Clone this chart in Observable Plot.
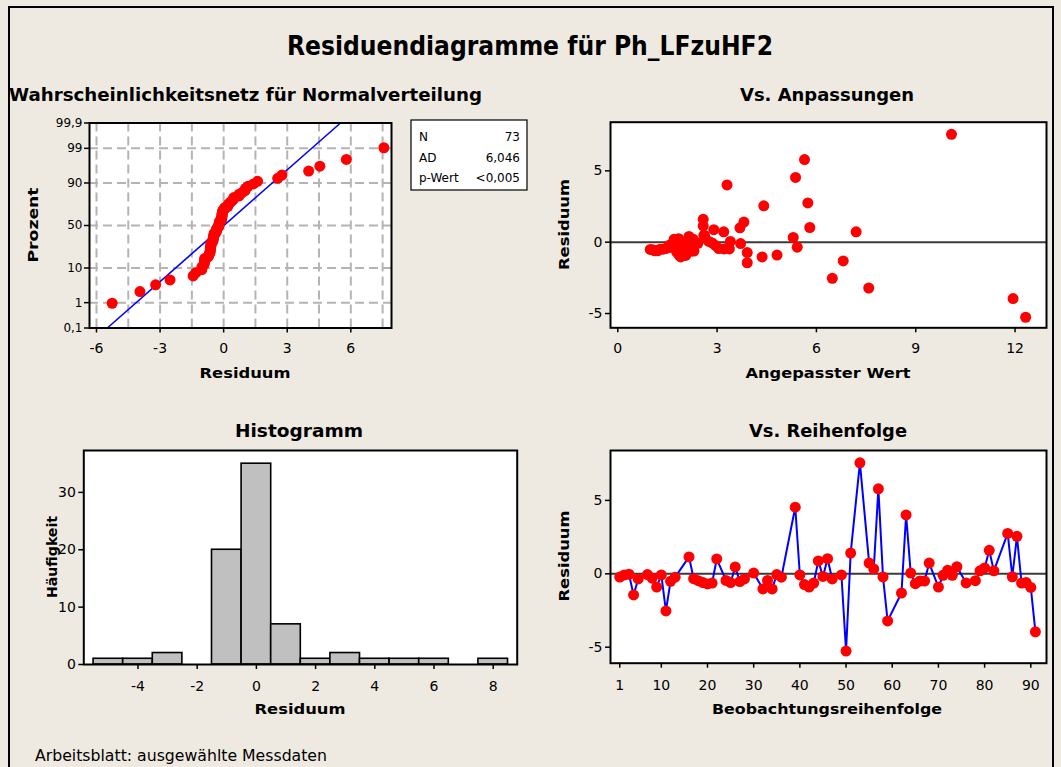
<!DOCTYPE html>
<html><head><meta charset="utf-8">
<script src="https://cdn.jsdelivr.net/npm/d3@7"></script>
<script src="https://cdn.jsdelivr.net/npm/@observablehq/plot@0.6"></script>
<style>
html,body{margin:0;padding:0;background:#eeeae1;}
#root{position:relative;width:1061px;height:767px;overflow:hidden;background:#eeeae1;}
</style></head><body><div id="root"></div>
<script>
// ---------- data ----------
const mainTitle = "Residuendiagramme für Ph_LFzuHF2";
const panelTitles = ["Wahrscheinlichkeitsnetz für Normalverteilung", "Vs. Anpassungen", "Histogramm", "Vs. Reihenfolge"];
const axisLabels = {prob: ["Residuum", "Prozent"], fits: ["Angepasster Wert", "Residuum"], hist: ["Residuum", "Häufigkeit"], order: ["Beobachtungsreihenfolge", "Residuum"]};
const footer = "Arbeitsblatt: ausgewählte Messdaten";
const statLabels = ["N", "AD", "p-Wert"];
const statValues = ["73", "6,046", "<0,005"];

const obsNumber = [1,2,3,4,5,7,8,9,10,11,12,13,16,17,18,19,20,21,22,24,25,26,27,28,30,32,33,34,35,36,39,40,41,42,43,44,45,46,47,49,50,51,53,55,56,57,58,59,62,63,64,65,66,67,68,70,71,72,73,74,76,78,79,80,81,82,85,86,87,88,89,90,91];
const residuals = [-0.22,-0.08,-0.03,-1.44,-0.35,-0.05,-0.30,-0.90,-0.08,-2.53,-0.51,-0.23,1.15,-0.33,-0.47,-0.60,-0.69,-0.63,1.01,-0.45,-0.60,0.47,-0.53,-0.35,0.05,-1.03,-0.45,-1.03,-0.05,-0.23,4.54,-0.08,-0.73,-0.90,-0.63,0.88,-0.18,1.03,-0.35,-0.08,-5.26,1.41,7.56,0.73,0.33,5.79,-0.21,-3.21,-1.31,4.01,0.05,-0.67,-0.49,-0.49,0.73,-0.90,-0.10,0.25,-0.10,0.48,-0.62,-0.47,0.20,0.40,1.60,0.20,2.75,-0.20,2.55,-0.63,-0.60,-0.93,-3.95];
const fittedValues = [1.55,2.42,1.75,3.91,1.58,1.90,1.68,1.85,2.05,6.48,0.98,1.72,2.58,1.62,3.21,1.12,1.78,2.12,3.69,1.45,1.20,2.62,1.05,1.52,2.75,4.36,3.05,1.90,2.85,2.95,5.37,2.15,3.91,4.81,2.20,2.90,2.10,5.80,5.42,2.35,12.32,3.81,10.08,7.20,5.30,5.64,1.80,7.58,6.81,3.30,3.40,1.98,1.28,1.36,3.20,1.95,3.71,1.84,2.22,2.60,2.30,3.37,1.70,2.15,2.58,2.28,5.74,2.00,4.41,1.88,2.25,2.05,11.94];

const probTickPercent = [0.1, 1, 10, 50, 90, 99, 99.9];
const probTickLabels = ["0,1", "1", "10", "50", "90", "99", "99,9"];
const probGridPercent = [1, 10, 50, 90, 99];
const probXTicks = [-6, -3, 0, 3, 6];
const probXGrid = [-6, -4.5, -3, -1.5, 0, 1.5, 3, 4.5, 6, 7.5];
const fitsXTicks = [0, 3, 6, 9, 12];
const residTicks = [-5, 0, 5];
const histXTicks = [-4, -2, 0, 2, 4, 6, 8];
const histYTicks = [0, 10, 20, 30];
const histBinEdges = [-5.5,-4.5,-3.5,-2.5,-1.5,-0.5,0.5,1.5,2.5,3.5,4.5,5.5,6.5,7.5,8.5];
const orderXTicks = [1, 10, 20, 30, 40, 50, 60, 70, 80, 90];

// ---------- helpers ----------
function probit(p) {
  const a=[-39.69683028665376,220.9460984245205,-275.9285104469687,138.3577518672690,-30.66479806614716,2.506628277459239];
  const b=[-54.47609879822406,161.5858368580409,-155.6989798598866,66.80131188771972,-13.28068155288572];
  const c=[-0.007784894002430293,-0.3223964580411365,-2.400758277161838,-2.549732539343734,4.374664141464968,2.938163982698783];
  const d=[0.007784695709041462,0.3224671290700398,2.445134137142996,3.754408661907416];
  const pl=0.02425, ph=1-pl;
  if (p < pl) { const q=Math.sqrt(-2*Math.log(p)); return (((((c[0]*q+c[1])*q+c[2])*q+c[3])*q+c[4])*q+c[5])/((((d[0]*q+d[1])*q+d[2])*q+d[3])*q+1); }
  if (p > ph) { const q=Math.sqrt(-2*Math.log(1-p)); return -(((((c[0]*q+c[1])*q+c[2])*q+c[3])*q+c[4])*q+c[5])/((((d[0]*q+d[1])*q+d[2])*q+d[3])*q+1); }
  const q=p-0.5, r=q*q;
  return (((((a[0]*r+a[1])*r+a[2])*r+a[3])*r+a[4])*r+a[5])*q/(((((b[0]*r+b[1])*r+b[2])*r+b[3])*r+b[4])*r+1);
}
const tickFont = "'DejaVu Sans', Verdana, sans-serif";
const RED = "#ff0000", BLUE = "#0000ff";
const root = document.getElementById("root");
function place(svg, left, top) {
  svg.style.position = "absolute"; svg.style.left = left + "px"; svg.style.top = top + "px";
  root.appendChild(svg);
}
const baseStyle = {fontFamily: tickFont, fontSize: "14px", color: "black", background: "transparent", overflow: "visible"};

const n = residuals.length;
const rows = obsNumber.map((o, i) => ({obs: o, resid: residuals[i], fit: fittedValues[i]}));
const sorted = residuals.slice().sort(d3.ascending);
const probPts = sorted.map((v, i) => ({x: v, z: probit((i + 1 - 0.3) / (n + 0.4))}));
const mu = d3.mean(residuals), sd = d3.deviation(residuals);
const zLo = probit(0.001), zHi = probit(0.999);
const fitLine = [zLo, zHi].map(z => ({x: mu + sd * z, z}));
const zTickMap = new Map(probTickPercent.map((p, i) => [probit(p / 100), probTickLabels[i]]));

// ---------- Probability plot ----------
const probPlot = Plot.plot({
  width: 420, height: 280, marginLeft: 89, marginRight: 29, marginTop: 22.5, marginBottom: 52.5,
  style: baseStyle,
  x: {domain: [-6.33, 7.92]},
  y: {domain: [zLo, zHi]},
  marks: [
    Plot.frame({fill: "white", stroke: null}),
    Plot.gridX(probXGrid, {stroke: "#b4b4b4", strokeOpacity: 1, strokeWidth: 2, strokeDasharray: "9,5"}),
    Plot.gridY(probGridPercent.map(p => probit(p / 100)), {stroke: "#b4b4b4", strokeOpacity: 1, strokeWidth: 2, strokeDasharray: "9,5"}),
    Plot.line(fitLine, {x: "x", y: "z", stroke: BLUE, strokeWidth: 1.6}),
    Plot.dot(probPts, {x: "x", y: "z", r: 5.5, fill: RED, stroke: null}),
    Plot.axisX(probXTicks, {tickSize: 5, tickPadding: 10, tickFormat: d => String(d), label: null, strokeWidth: 1.5, fontSize: 14}),
    Plot.axisY([...zTickMap.keys()], {tickSize: 5, tickPadding: 2, tickFormat: d => zTickMap.get(d), label: null, strokeWidth: 1.5, fontSize: 12}),
    Plot.frame({stroke: "black", strokeWidth: 2})
  ]
});
place(probPlot, 0, 100);

// ---------- Fits plot ----------
const fitsPlot = Plot.plot({
  width: 520, height: 280, marginLeft: 70, marginRight: 14, marginTop: 21.7, marginBottom: 52.7,
  style: baseStyle,
  x: {domain: [-0.22, 12.95]},
  y: {domain: [-6.0, 8.41]},
  marks: [
    Plot.frame({fill: "white", stroke: null}),
    Plot.ruleY([0], {stroke: "#3a3a3a", strokeWidth: 2}),
    Plot.dot(rows, {x: "fit", y: "resid", r: 5.5, fill: RED, stroke: null}),
    Plot.axisX(fitsXTicks, {tickSize: 5, tickPadding: 10, tickFormat: d => String(d), label: null, strokeWidth: 1.5}),
    Plot.axisY(residTicks, {tickSize: 5, tickPadding: 3, tickFormat: d => String(d), label: null, strokeWidth: 1.5}),
    Plot.frame({stroke: "black", strokeWidth: 2})
  ]
});
place(fitsPlot, 540, 100);

// ---------- Histogram ----------
const histPlot = Plot.plot({
  width: 540, height: 300, marginLeft: 83.3, marginRight: 23.3, marginTop: 20, marginBottom: 66,
  style: baseStyle,
  x: {domain: [-5.83, 8.81]},
  y: {domain: [0, 37.3]},
  marks: [
    Plot.frame({fill: "white", stroke: null}),
    Plot.rectY(residuals, Plot.binX({y: "count"}, {x: d => d, thresholds: histBinEdges, fill: "#c0c0c0", stroke: "black", strokeWidth: 1.6, inset: 0})),
    Plot.axisX(histXTicks, {tickSize: 5, tickPadding: 12, tickFormat: d => String(d), label: null, strokeWidth: 1.5}),
    Plot.axisY(histYTicks, {tickSize: 5, tickPadding: 3, tickFormat: d => String(d), label: null, strokeWidth: 1.5}),
    Plot.frame({stroke: "black", strokeWidth: 2})
  ]
});
place(histPlot, 0, 430);

// ---------- Order plot ----------
const orderPlot = Plot.plot({
  width: 520, height: 300, marginLeft: 70, marginRight: 14, marginTop: 20, marginBottom: 67.3,
  style: baseStyle,
  x: {domain: [-1.0, 93.4]},
  y: {domain: [-6.09, 8.40]},
  marks: [
    Plot.frame({fill: "white", stroke: null}),
    Plot.ruleY([0], {stroke: "#3a3a3a", strokeWidth: 2}),
    Plot.line(rows, {x: "obs", y: "resid", stroke: BLUE, strokeWidth: 2}),
    Plot.dot(rows, {x: "obs", y: "resid", r: 5.5, fill: RED, stroke: null}),
    Plot.axisX(orderXTicks, {tickSize: 5, tickPadding: 12, tickFormat: d => String(d), label: null, strokeWidth: 1.5}),
    Plot.axisY(residTicks, {tickSize: 5, tickPadding: 3, tickFormat: d => String(d), label: null, strokeWidth: 1.5}),
    Plot.frame({stroke: "black", strokeWidth: 2})
  ]
});
place(orderPlot, 540, 430);

// ---------- overlay: border, titles, labels, stats box ----------
const ov = d3.select(root).append("svg")
  .attr("width", 1061).attr("height", 767)
  .style("position", "absolute").style("left", "0px").style("top", "0px").style("pointer-events", "none");
ov.append("rect").attr("x", 9).attr("y", 7).attr("width", 1044).attr("height", 800)
  .attr("fill", "none").attr("stroke", "black").attr("stroke-width", 2);

const titleFont = "'Liberation Sans Narrow','DejaVu Sans Condensed','Liberation Sans',Arial,sans-serif";
function text(s, x, y, o = {}) {
  const t = ov.append("text").text(s).attr("x", x).attr("y", y)
    .attr("font-family", o.family || tickFont)
    .attr("font-size", o.size || 14)
    .attr("font-weight", o.weight || "normal")
    .attr("text-anchor", o.anchor || "middle")
    .attr("fill", "black");
  if (o.len) t.attr("textLength", o.len).attr("lengthAdjust", "spacingAndGlyphs");
  if (o.rotate) t.attr("transform", `rotate(-90 ${x} ${y})`);
  return t;
}
text(mainTitle, 530, 55, {family: titleFont, size: 27, weight: "bold", len: 486});
text(panelTitles[0], 245.5, 101, {family: titleFont, size: 18, weight: "bold", len: 473});
text(panelTitles[1], 827, 101, {family: titleFont, size: 18, weight: "bold", len: 174});
text(panelTitles[2], 299, 437, {family: titleFont, size: 18, weight: "bold", len: 128});
text(panelTitles[3], 828, 437, {family: titleFont, size: 18, weight: "bold", len: 158});

const lab = {size: 14.5, weight: "bold"};
text(axisLabels.prob[0], 245, 378, {...lab, len: 91});
text(axisLabels.prob[1], 38, 225, {...lab, rotate: true, len: 75});
text(axisLabels.fits[0], 828, 378, {...lab, len: 165});
text(axisLabels.fits[1], 569, 224.5, {...lab, rotate: true, len: 91});
text(axisLabels.hist[0], 300, 714, {...lab, len: 91});
text(axisLabels.hist[1], 57, 557, {...lab, rotate: true, len: 82});
text(axisLabels.order[0], 827, 714, {...lab, len: 230});
text(axisLabels.order[1], 569, 556, {...lab, rotate: true, len: 91});

text(footer, 35, 761, {family: titleFont, size: 16, anchor: "start", len: 292});

// stats box
ov.append("rect").attr("x", 411).attr("y", 120).attr("width", 116).attr("height", 70)
  .attr("fill", "white").attr("stroke", "black").attr("stroke-width", 1.2);
statLabels.forEach((s, i) => {
  const y = 141 + i * 20.5;
  text(s, 419, y, {size: 12, anchor: "start"});
  text(statValues[i], 520, y, {size: 12, anchor: "end"});
});
</script></body></html>
